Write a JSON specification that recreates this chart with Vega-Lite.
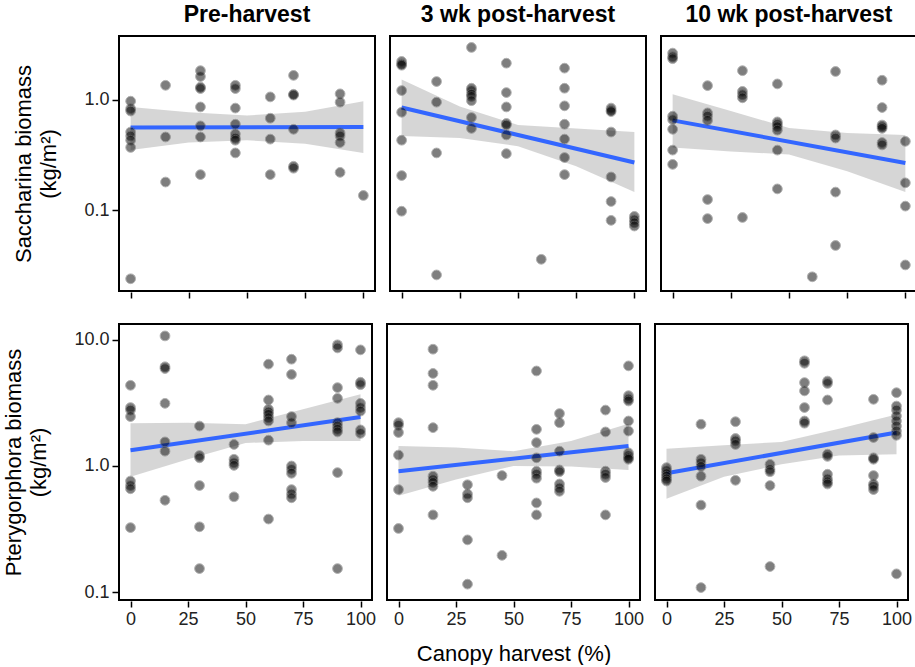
{
  "$schema": "https://vega.github.io/schema/vega-lite/v6.json",
  "background": "white",
  "padding": {"left": 2, "top": 4, "right": 0, "bottom": 0},
  "align": "none",
  "spacing": 24,
  "config": {
    "font": "Liberation Sans",
    "view": {"stroke": "black", "strokeWidth": 2},
    "axis": {"grid": false, "domain": false, "tickColor": "black", "tickSize": 6, "tickWidth": 1.5, "labelFontSize": 18, "labelColor": "#222222", "labelPadding": 3, "titleFontSize": 22, "titleFontWeight": "normal", "titleColor": "black"},
    "header": {"labelFontSize": 23, "labelFontWeight": "bold", "labelColor": "black", "labelPadding": 8},
    "facet": {"spacing": 13}
  },
  "datasets": {
    "d": [
      {"sp":"S","period":"Pre-harvest","harvest":0,"biomass":0.97},
      {"sp":"S","period":"Pre-harvest","harvest":0,"biomass":0.83},
      {"sp":"S","period":"Pre-harvest","harvest":0,"biomass":0.79},
      {"sp":"S","period":"Pre-harvest","harvest":0,"biomass":0.51},
      {"sp":"S","period":"Pre-harvest","harvest":0,"biomass":0.47},
      {"sp":"S","period":"Pre-harvest","harvest":0,"biomass":0.43},
      {"sp":"S","period":"Pre-harvest","harvest":0,"biomass":0.37},
      {"sp":"S","period":"Pre-harvest","harvest":0,"biomass":0.024},
      {"sp":"S","period":"Pre-harvest","harvest":15,"biomass":1.35},
      {"sp":"S","period":"Pre-harvest","harvest":15,"biomass":0.46},
      {"sp":"S","period":"Pre-harvest","harvest":15,"biomass":0.18},
      {"sp":"S","period":"Pre-harvest","harvest":30,"biomass":1.83},
      {"sp":"S","period":"Pre-harvest","harvest":30,"biomass":1.62},
      {"sp":"S","period":"Pre-harvest","harvest":30,"biomass":1.3},
      {"sp":"S","period":"Pre-harvest","harvest":30,"biomass":1.26},
      {"sp":"S","period":"Pre-harvest","harvest":30,"biomass":0.86},
      {"sp":"S","period":"Pre-harvest","harvest":30,"biomass":0.58},
      {"sp":"S","period":"Pre-harvest","harvest":30,"biomass":0.46},
      {"sp":"S","period":"Pre-harvest","harvest":30,"biomass":0.21},
      {"sp":"S","period":"Pre-harvest","harvest":45,"biomass":1.35},
      {"sp":"S","period":"Pre-harvest","harvest":45,"biomass":1.26},
      {"sp":"S","period":"Pre-harvest","harvest":45,"biomass":0.84},
      {"sp":"S","period":"Pre-harvest","harvest":45,"biomass":0.6},
      {"sp":"S","period":"Pre-harvest","harvest":45,"biomass":0.49},
      {"sp":"S","period":"Pre-harvest","harvest":45,"biomass":0.45},
      {"sp":"S","period":"Pre-harvest","harvest":45,"biomass":0.43},
      {"sp":"S","period":"Pre-harvest","harvest":45,"biomass":0.33},
      {"sp":"S","period":"Pre-harvest","harvest":60,"biomass":1.06},
      {"sp":"S","period":"Pre-harvest","harvest":60,"biomass":0.68},
      {"sp":"S","period":"Pre-harvest","harvest":60,"biomass":0.44},
      {"sp":"S","period":"Pre-harvest","harvest":60,"biomass":0.21},
      {"sp":"S","period":"Pre-harvest","harvest":70,"biomass":1.66},
      {"sp":"S","period":"Pre-harvest","harvest":70,"biomass":1.12},
      {"sp":"S","period":"Pre-harvest","harvest":70,"biomass":1.1},
      {"sp":"S","period":"Pre-harvest","harvest":70,"biomass":0.54},
      {"sp":"S","period":"Pre-harvest","harvest":70,"biomass":0.25},
      {"sp":"S","period":"Pre-harvest","harvest":70,"biomass":0.24},
      {"sp":"S","period":"Pre-harvest","harvest":90,"biomass":1.13},
      {"sp":"S","period":"Pre-harvest","harvest":90,"biomass":0.95},
      {"sp":"S","period":"Pre-harvest","harvest":90,"biomass":0.5},
      {"sp":"S","period":"Pre-harvest","harvest":90,"biomass":0.47},
      {"sp":"S","period":"Pre-harvest","harvest":90,"biomass":0.41},
      {"sp":"S","period":"Pre-harvest","harvest":90,"biomass":0.22},
      {"sp":"S","period":"Pre-harvest","harvest":100,"biomass":0.136},

      {"sp":"S","period":"3 wk post-harvest","harvest":0,"biomass":2.22},
      {"sp":"S","period":"3 wk post-harvest","harvest":0,"biomass":2.1},
      {"sp":"S","period":"3 wk post-harvest","harvest":0,"biomass":2.05},
      {"sp":"S","period":"3 wk post-harvest","harvest":0,"biomass":1.21},
      {"sp":"S","period":"3 wk post-harvest","harvest":0,"biomass":0.77},
      {"sp":"S","period":"3 wk post-harvest","harvest":0,"biomass":0.43},
      {"sp":"S","period":"3 wk post-harvest","harvest":0,"biomass":0.206},
      {"sp":"S","period":"3 wk post-harvest","harvest":0,"biomass":0.098},
      {"sp":"S","period":"3 wk post-harvest","harvest":15,"biomass":1.46},
      {"sp":"S","period":"3 wk post-harvest","harvest":15,"biomass":0.95},
      {"sp":"S","period":"3 wk post-harvest","harvest":15,"biomass":0.33},
      {"sp":"S","period":"3 wk post-harvest","harvest":15,"biomass":0.026},
      {"sp":"S","period":"3 wk post-harvest","harvest":30,"biomass":2.97},
      {"sp":"S","period":"3 wk post-harvest","harvest":30,"biomass":1.27},
      {"sp":"S","period":"3 wk post-harvest","harvest":30,"biomass":1.21},
      {"sp":"S","period":"3 wk post-harvest","harvest":30,"biomass":1.12},
      {"sp":"S","period":"3 wk post-harvest","harvest":30,"biomass":1.07},
      {"sp":"S","period":"3 wk post-harvest","harvest":30,"biomass":0.98},
      {"sp":"S","period":"3 wk post-harvest","harvest":30,"biomass":0.69},
      {"sp":"S","period":"3 wk post-harvest","harvest":30,"biomass":0.55},
      {"sp":"S","period":"3 wk post-harvest","harvest":45,"biomass":2.14},
      {"sp":"S","period":"3 wk post-harvest","harvest":45,"biomass":1.16},
      {"sp":"S","period":"3 wk post-harvest","harvest":45,"biomass":0.86},
      {"sp":"S","period":"3 wk post-harvest","harvest":45,"biomass":0.61},
      {"sp":"S","period":"3 wk post-harvest","harvest":45,"biomass":0.59},
      {"sp":"S","period":"3 wk post-harvest","harvest":45,"biomass":0.48},
      {"sp":"S","period":"3 wk post-harvest","harvest":45,"biomass":0.325},
      {"sp":"S","period":"3 wk post-harvest","harvest":60,"biomass":0.036},
      {"sp":"S","period":"3 wk post-harvest","harvest":70,"biomass":1.93},
      {"sp":"S","period":"3 wk post-harvest","harvest":70,"biomass":1.27},
      {"sp":"S","period":"3 wk post-harvest","harvest":70,"biomass":0.88},
      {"sp":"S","period":"3 wk post-harvest","harvest":70,"biomass":0.6},
      {"sp":"S","period":"3 wk post-harvest","harvest":70,"biomass":0.44},
      {"sp":"S","period":"3 wk post-harvest","harvest":70,"biomass":0.3},
      {"sp":"S","period":"3 wk post-harvest","harvest":70,"biomass":0.21},
      {"sp":"S","period":"3 wk post-harvest","harvest":90,"biomass":0.84},
      {"sp":"S","period":"3 wk post-harvest","harvest":90,"biomass":0.8},
      {"sp":"S","period":"3 wk post-harvest","harvest":90,"biomass":0.78},
      {"sp":"S","period":"3 wk post-harvest","harvest":90,"biomass":0.51},
      {"sp":"S","period":"3 wk post-harvest","harvest":90,"biomass":0.2},
      {"sp":"S","period":"3 wk post-harvest","harvest":90,"biomass":0.12},
      {"sp":"S","period":"3 wk post-harvest","harvest":90,"biomass":0.081},
      {"sp":"S","period":"3 wk post-harvest","harvest":100,"biomass":0.088},
      {"sp":"S","period":"3 wk post-harvest","harvest":100,"biomass":0.082},
      {"sp":"S","period":"3 wk post-harvest","harvest":100,"biomass":0.077},
      {"sp":"S","period":"3 wk post-harvest","harvest":100,"biomass":0.072},

      {"sp":"S","period":"10 wk post-harvest","harvest":0,"biomass":2.64},
      {"sp":"S","period":"10 wk post-harvest","harvest":0,"biomass":2.45},
      {"sp":"S","period":"10 wk post-harvest","harvest":0,"biomass":2.35},
      {"sp":"S","period":"10 wk post-harvest","harvest":0,"biomass":0.71},
      {"sp":"S","period":"10 wk post-harvest","harvest":0,"biomass":0.66},
      {"sp":"S","period":"10 wk post-harvest","harvest":0,"biomass":0.54},
      {"sp":"S","period":"10 wk post-harvest","harvest":0,"biomass":0.35},
      {"sp":"S","period":"10 wk post-harvest","harvest":0,"biomass":0.26},
      {"sp":"S","period":"10 wk post-harvest","harvest":15,"biomass":1.34},
      {"sp":"S","period":"10 wk post-harvest","harvest":15,"biomass":0.76},
      {"sp":"S","period":"10 wk post-harvest","harvest":15,"biomass":0.71},
      {"sp":"S","period":"10 wk post-harvest","harvest":15,"biomass":0.65},
      {"sp":"S","period":"10 wk post-harvest","harvest":15,"biomass":0.125},
      {"sp":"S","period":"10 wk post-harvest","harvest":15,"biomass":0.084},
      {"sp":"S","period":"10 wk post-harvest","harvest":30,"biomass":1.83},
      {"sp":"S","period":"10 wk post-harvest","harvest":30,"biomass":1.19},
      {"sp":"S","period":"10 wk post-harvest","harvest":30,"biomass":1.11},
      {"sp":"S","period":"10 wk post-harvest","harvest":30,"biomass":1.04},
      {"sp":"S","period":"10 wk post-harvest","harvest":30,"biomass":0.086},
      {"sp":"S","period":"10 wk post-harvest","harvest":45,"biomass":1.39},
      {"sp":"S","period":"10 wk post-harvest","harvest":45,"biomass":0.63},
      {"sp":"S","period":"10 wk post-harvest","harvest":45,"biomass":0.6},
      {"sp":"S","period":"10 wk post-harvest","harvest":45,"biomass":0.57},
      {"sp":"S","period":"10 wk post-harvest","harvest":45,"biomass":0.53},
      {"sp":"S","period":"10 wk post-harvest","harvest":45,"biomass":0.35},
      {"sp":"S","period":"10 wk post-harvest","harvest":45,"biomass":0.156},
      {"sp":"S","period":"10 wk post-harvest","harvest":60,"biomass":0.025},
      {"sp":"S","period":"10 wk post-harvest","harvest":70,"biomass":1.8},
      {"sp":"S","period":"10 wk post-harvest","harvest":70,"biomass":0.48},
      {"sp":"S","period":"10 wk post-harvest","harvest":70,"biomass":0.45},
      {"sp":"S","period":"10 wk post-harvest","harvest":70,"biomass":0.146},
      {"sp":"S","period":"10 wk post-harvest","harvest":70,"biomass":0.048},
      {"sp":"S","period":"10 wk post-harvest","harvest":90,"biomass":1.5},
      {"sp":"S","period":"10 wk post-harvest","harvest":90,"biomass":0.85},
      {"sp":"S","period":"10 wk post-harvest","harvest":90,"biomass":0.59},
      {"sp":"S","period":"10 wk post-harvest","harvest":90,"biomass":0.57},
      {"sp":"S","period":"10 wk post-harvest","harvest":90,"biomass":0.55},
      {"sp":"S","period":"10 wk post-harvest","harvest":90,"biomass":0.41},
      {"sp":"S","period":"10 wk post-harvest","harvest":90,"biomass":0.39},
      {"sp":"S","period":"10 wk post-harvest","harvest":100,"biomass":0.42},
      {"sp":"S","period":"10 wk post-harvest","harvest":100,"biomass":0.177},
      {"sp":"S","period":"10 wk post-harvest","harvest":100,"biomass":0.109},
      {"sp":"S","period":"10 wk post-harvest","harvest":100,"biomass":0.032},

      {"sp":"P","period":"Pre-harvest","harvest":0,"biomass":4.35},
      {"sp":"P","period":"Pre-harvest","harvest":0,"biomass":2.9},
      {"sp":"P","period":"Pre-harvest","harvest":0,"biomass":2.77},
      {"sp":"P","period":"Pre-harvest","harvest":0,"biomass":2.46},
      {"sp":"P","period":"Pre-harvest","harvest":0,"biomass":0.76},
      {"sp":"P","period":"Pre-harvest","harvest":0,"biomass":0.7},
      {"sp":"P","period":"Pre-harvest","harvest":0,"biomass":0.66},
      {"sp":"P","period":"Pre-harvest","harvest":0,"biomass":0.325},
      {"sp":"P","period":"Pre-harvest","harvest":15,"biomass":10.7},
      {"sp":"P","period":"Pre-harvest","harvest":15,"biomass":6.1},
      {"sp":"P","period":"Pre-harvest","harvest":15,"biomass":5.9},
      {"sp":"P","period":"Pre-harvest","harvest":15,"biomass":3.13},
      {"sp":"P","period":"Pre-harvest","harvest":15,"biomass":1.55},
      {"sp":"P","period":"Pre-harvest","harvest":15,"biomass":1.31},
      {"sp":"P","period":"Pre-harvest","harvest":15,"biomass":0.535},
      {"sp":"P","period":"Pre-harvest","harvest":30,"biomass":2.07},
      {"sp":"P","period":"Pre-harvest","harvest":30,"biomass":1.21},
      {"sp":"P","period":"Pre-harvest","harvest":30,"biomass":1.16},
      {"sp":"P","period":"Pre-harvest","harvest":30,"biomass":0.7},
      {"sp":"P","period":"Pre-harvest","harvest":30,"biomass":0.33},
      {"sp":"P","period":"Pre-harvest","harvest":30,"biomass":0.154},
      {"sp":"P","period":"Pre-harvest","harvest":45,"biomass":1.48},
      {"sp":"P","period":"Pre-harvest","harvest":45,"biomass":1.13},
      {"sp":"P","period":"Pre-harvest","harvest":45,"biomass":1.06},
      {"sp":"P","period":"Pre-harvest","harvest":45,"biomass":1.01},
      {"sp":"P","period":"Pre-harvest","harvest":45,"biomass":0.57},
      {"sp":"P","period":"Pre-harvest","harvest":60,"biomass":6.4},
      {"sp":"P","period":"Pre-harvest","harvest":60,"biomass":3.33},
      {"sp":"P","period":"Pre-harvest","harvest":60,"biomass":2.81},
      {"sp":"P","period":"Pre-harvest","harvest":60,"biomass":2.68},
      {"sp":"P","period":"Pre-harvest","harvest":60,"biomass":2.56},
      {"sp":"P","period":"Pre-harvest","harvest":60,"biomass":2.41},
      {"sp":"P","period":"Pre-harvest","harvest":60,"biomass":2.27},
      {"sp":"P","period":"Pre-harvest","harvest":60,"biomass":1.6},
      {"sp":"P","period":"Pre-harvest","harvest":60,"biomass":0.38},
      {"sp":"P","period":"Pre-harvest","harvest":70,"biomass":7.0},
      {"sp":"P","period":"Pre-harvest","harvest":70,"biomass":5.3},
      {"sp":"P","period":"Pre-harvest","harvest":70,"biomass":2.46},
      {"sp":"P","period":"Pre-harvest","harvest":70,"biomass":2.2},
      {"sp":"P","period":"Pre-harvest","harvest":70,"biomass":1.0},
      {"sp":"P","period":"Pre-harvest","harvest":70,"biomass":0.94},
      {"sp":"P","period":"Pre-harvest","harvest":70,"biomass":0.875},
      {"sp":"P","period":"Pre-harvest","harvest":70,"biomass":0.65},
      {"sp":"P","period":"Pre-harvest","harvest":70,"biomass":0.6},
      {"sp":"P","period":"Pre-harvest","harvest":70,"biomass":0.56},
      {"sp":"P","period":"Pre-harvest","harvest":90,"biomass":9.1},
      {"sp":"P","period":"Pre-harvest","harvest":90,"biomass":8.6},
      {"sp":"P","period":"Pre-harvest","harvest":90,"biomass":4.17},
      {"sp":"P","period":"Pre-harvest","harvest":90,"biomass":3.43},
      {"sp":"P","period":"Pre-harvest","harvest":90,"biomass":2.2},
      {"sp":"P","period":"Pre-harvest","harvest":90,"biomass":2.07},
      {"sp":"P","period":"Pre-harvest","harvest":90,"biomass":1.95},
      {"sp":"P","period":"Pre-harvest","harvest":90,"biomass":1.86},
      {"sp":"P","period":"Pre-harvest","harvest":90,"biomass":0.886},
      {"sp":"P","period":"Pre-harvest","harvest":90,"biomass":0.154},
      {"sp":"P","period":"Pre-harvest","harvest":100,"biomass":8.3},
      {"sp":"P","period":"Pre-harvest","harvest":100,"biomass":4.6},
      {"sp":"P","period":"Pre-harvest","harvest":100,"biomass":4.4},
      {"sp":"P","period":"Pre-harvest","harvest":100,"biomass":3.13},
      {"sp":"P","period":"Pre-harvest","harvest":100,"biomass":2.9},
      {"sp":"P","period":"Pre-harvest","harvest":100,"biomass":2.72},
      {"sp":"P","period":"Pre-harvest","harvest":100,"biomass":1.93},
      {"sp":"P","period":"Pre-harvest","harvest":100,"biomass":1.81},

      {"sp":"P","period":"3 wk post-harvest","harvest":0,"biomass":2.2},
      {"sp":"P","period":"3 wk post-harvest","harvest":0,"biomass":2.1},
      {"sp":"P","period":"3 wk post-harvest","harvest":0,"biomass":1.84},
      {"sp":"P","period":"3 wk post-harvest","harvest":0,"biomass":1.22},
      {"sp":"P","period":"3 wk post-harvest","harvest":0,"biomass":0.65},
      {"sp":"P","period":"3 wk post-harvest","harvest":0,"biomass":0.32},
      {"sp":"P","period":"3 wk post-harvest","harvest":15,"biomass":8.4},
      {"sp":"P","period":"3 wk post-harvest","harvest":15,"biomass":5.4},
      {"sp":"P","period":"3 wk post-harvest","harvest":15,"biomass":4.35},
      {"sp":"P","period":"3 wk post-harvest","harvest":15,"biomass":2.01},
      {"sp":"P","period":"3 wk post-harvest","harvest":15,"biomass":0.83},
      {"sp":"P","period":"3 wk post-harvest","harvest":15,"biomass":0.78},
      {"sp":"P","period":"3 wk post-harvest","harvest":15,"biomass":0.74},
      {"sp":"P","period":"3 wk post-harvest","harvest":15,"biomass":0.69},
      {"sp":"P","period":"3 wk post-harvest","harvest":15,"biomass":0.41},
      {"sp":"P","period":"3 wk post-harvest","harvest":30,"biomass":0.71},
      {"sp":"P","period":"3 wk post-harvest","harvest":30,"biomass":0.6},
      {"sp":"P","period":"3 wk post-harvest","harvest":30,"biomass":0.56},
      {"sp":"P","period":"3 wk post-harvest","harvest":30,"biomass":0.26},
      {"sp":"P","period":"3 wk post-harvest","harvest":30,"biomass":0.116},
      {"sp":"P","period":"3 wk post-harvest","harvest":45,"biomass":0.84},
      {"sp":"P","period":"3 wk post-harvest","harvest":45,"biomass":0.196},
      {"sp":"P","period":"3 wk post-harvest","harvest":60,"biomass":5.65},
      {"sp":"P","period":"3 wk post-harvest","harvest":60,"biomass":1.95},
      {"sp":"P","period":"3 wk post-harvest","harvest":60,"biomass":1.53},
      {"sp":"P","period":"3 wk post-harvest","harvest":60,"biomass":1.16},
      {"sp":"P","period":"3 wk post-harvest","harvest":60,"biomass":0.91},
      {"sp":"P","period":"3 wk post-harvest","harvest":60,"biomass":0.86},
      {"sp":"P","period":"3 wk post-harvest","harvest":60,"biomass":0.8},
      {"sp":"P","period":"3 wk post-harvest","harvest":60,"biomass":0.51},
      {"sp":"P","period":"3 wk post-harvest","harvest":60,"biomass":0.41},
      {"sp":"P","period":"3 wk post-harvest","harvest":70,"biomass":2.6},
      {"sp":"P","period":"3 wk post-harvest","harvest":70,"biomass":2.2},
      {"sp":"P","period":"3 wk post-harvest","harvest":70,"biomass":1.31},
      {"sp":"P","period":"3 wk post-harvest","harvest":70,"biomass":0.93},
      {"sp":"P","period":"3 wk post-harvest","harvest":70,"biomass":0.9},
      {"sp":"P","period":"3 wk post-harvest","harvest":70,"biomass":0.72},
      {"sp":"P","period":"3 wk post-harvest","harvest":70,"biomass":0.67},
      {"sp":"P","period":"3 wk post-harvest","harvest":70,"biomass":0.63},
      {"sp":"P","period":"3 wk post-harvest","harvest":90,"biomass":2.77},
      {"sp":"P","period":"3 wk post-harvest","harvest":90,"biomass":1.86},
      {"sp":"P","period":"3 wk post-harvest","harvest":90,"biomass":0.91},
      {"sp":"P","period":"3 wk post-harvest","harvest":90,"biomass":0.86},
      {"sp":"P","period":"3 wk post-harvest","harvest":90,"biomass":0.81},
      {"sp":"P","period":"3 wk post-harvest","harvest":90,"biomass":0.41},
      {"sp":"P","period":"3 wk post-harvest","harvest":100,"biomass":6.2},
      {"sp":"P","period":"3 wk post-harvest","harvest":100,"biomass":3.6},
      {"sp":"P","period":"3 wk post-harvest","harvest":100,"biomass":3.4},
      {"sp":"P","period":"3 wk post-harvest","harvest":100,"biomass":3.27},
      {"sp":"P","period":"3 wk post-harvest","harvest":100,"biomass":2.27},
      {"sp":"P","period":"3 wk post-harvest","harvest":100,"biomass":1.89},
      {"sp":"P","period":"3 wk post-harvest","harvest":100,"biomass":1.27},
      {"sp":"P","period":"3 wk post-harvest","harvest":100,"biomass":1.21},
      {"sp":"P","period":"3 wk post-harvest","harvest":100,"biomass":1.16},
      {"sp":"P","period":"3 wk post-harvest","harvest":100,"biomass":1.13},

      {"sp":"P","period":"10 wk post-harvest","harvest":0,"biomass":0.97},
      {"sp":"P","period":"10 wk post-harvest","harvest":0,"biomass":0.92},
      {"sp":"P","period":"10 wk post-harvest","harvest":0,"biomass":0.87},
      {"sp":"P","period":"10 wk post-harvest","harvest":0,"biomass":0.83},
      {"sp":"P","period":"10 wk post-harvest","harvest":0,"biomass":0.79},
      {"sp":"P","period":"10 wk post-harvest","harvest":0,"biomass":0.76},
      {"sp":"P","period":"10 wk post-harvest","harvest":15,"biomass":2.14},
      {"sp":"P","period":"10 wk post-harvest","harvest":15,"biomass":1.13},
      {"sp":"P","period":"10 wk post-harvest","harvest":15,"biomass":1.06},
      {"sp":"P","period":"10 wk post-harvest","harvest":15,"biomass":0.99},
      {"sp":"P","period":"10 wk post-harvest","harvest":15,"biomass":0.83},
      {"sp":"P","period":"10 wk post-harvest","harvest":15,"biomass":0.49},
      {"sp":"P","period":"10 wk post-harvest","harvest":15,"biomass":0.109},
      {"sp":"P","period":"10 wk post-harvest","harvest":30,"biomass":2.24},
      {"sp":"P","period":"10 wk post-harvest","harvest":30,"biomass":1.65},
      {"sp":"P","period":"10 wk post-harvest","harvest":30,"biomass":1.58},
      {"sp":"P","period":"10 wk post-harvest","harvest":30,"biomass":1.48},
      {"sp":"P","period":"10 wk post-harvest","harvest":30,"biomass":0.77},
      {"sp":"P","period":"10 wk post-harvest","harvest":45,"biomass":1.03},
      {"sp":"P","period":"10 wk post-harvest","harvest":45,"biomass":0.94},
      {"sp":"P","period":"10 wk post-harvest","harvest":45,"biomass":0.9},
      {"sp":"P","period":"10 wk post-harvest","harvest":45,"biomass":0.7},
      {"sp":"P","period":"10 wk post-harvest","harvest":45,"biomass":0.16},
      {"sp":"P","period":"10 wk post-harvest","harvest":60,"biomass":6.8},
      {"sp":"P","period":"10 wk post-harvest","harvest":60,"biomass":6.5},
      {"sp":"P","period":"10 wk post-harvest","harvest":60,"biomass":4.57},
      {"sp":"P","period":"10 wk post-harvest","harvest":60,"biomass":3.93},
      {"sp":"P","period":"10 wk post-harvest","harvest":60,"biomass":2.9},
      {"sp":"P","period":"10 wk post-harvest","harvest":60,"biomass":2.27},
      {"sp":"P","period":"10 wk post-harvest","harvest":60,"biomass":2.18},
      {"sp":"P","period":"10 wk post-harvest","harvest":70,"biomass":4.7},
      {"sp":"P","period":"10 wk post-harvest","harvest":70,"biomass":4.5},
      {"sp":"P","period":"10 wk post-harvest","harvest":70,"biomass":3.33},
      {"sp":"P","period":"10 wk post-harvest","harvest":70,"biomass":1.24},
      {"sp":"P","period":"10 wk post-harvest","harvest":70,"biomass":1.19},
      {"sp":"P","period":"10 wk post-harvest","harvest":70,"biomass":0.86},
      {"sp":"P","period":"10 wk post-harvest","harvest":70,"biomass":0.79},
      {"sp":"P","period":"10 wk post-harvest","harvest":70,"biomass":0.75},
      {"sp":"P","period":"10 wk post-harvest","harvest":70,"biomass":0.72},
      {"sp":"P","period":"10 wk post-harvest","harvest":90,"biomass":3.37},
      {"sp":"P","period":"10 wk post-harvest","harvest":90,"biomass":1.68},
      {"sp":"P","period":"10 wk post-harvest","harvest":90,"biomass":1.16},
      {"sp":"P","period":"10 wk post-harvest","harvest":90,"biomass":1.13},
      {"sp":"P","period":"10 wk post-harvest","harvest":90,"biomass":0.84},
      {"sp":"P","period":"10 wk post-harvest","harvest":90,"biomass":0.72},
      {"sp":"P","period":"10 wk post-harvest","harvest":90,"biomass":0.69},
      {"sp":"P","period":"10 wk post-harvest","harvest":90,"biomass":0.65},
      {"sp":"P","period":"10 wk post-harvest","harvest":100,"biomass":3.8},
      {"sp":"P","period":"10 wk post-harvest","harvest":100,"biomass":2.98},
      {"sp":"P","period":"10 wk post-harvest","harvest":100,"biomass":2.77},
      {"sp":"P","period":"10 wk post-harvest","harvest":100,"biomass":2.49},
      {"sp":"P","period":"10 wk post-harvest","harvest":100,"biomass":2.27},
      {"sp":"P","period":"10 wk post-harvest","harvest":100,"biomass":2.07},
      {"sp":"P","period":"10 wk post-harvest","harvest":100,"biomass":1.89},
      {"sp":"P","period":"10 wk post-harvest","harvest":100,"biomass":1.75},
      {"sp":"P","period":"10 wk post-harvest","harvest":100,"biomass":0.14},

      {"sp":"S","period":"Pre-harvest","harvest":0,"lo":0.35,"hi":0.86,"fit":0.56},
      {"sp":"S","period":"Pre-harvest","harvest":25,"lo":0.41,"hi":0.77},
      {"sp":"S","period":"Pre-harvest","harvest":50,"lo":0.43,"hi":0.72},
      {"sp":"S","period":"Pre-harvest","harvest":75,"lo":0.4,"hi":0.78},
      {"sp":"S","period":"Pre-harvest","harvest":100,"lo":0.33,"hi":0.97,"fit":0.565},
      {"sp":"S","period":"3 wk post-harvest","harvest":0,"lo":0.47,"hi":1.52,"fit":0.85},
      {"sp":"S","period":"3 wk post-harvest","harvest":25,"lo":0.45,"hi":0.87},
      {"sp":"S","period":"3 wk post-harvest","harvest":50,"lo":0.38,"hi":0.59},
      {"sp":"S","period":"3 wk post-harvest","harvest":75,"lo":0.25,"hi":0.55},
      {"sp":"S","period":"3 wk post-harvest","harvest":100,"lo":0.146,"hi":0.51,"fit":0.27},
      {"sp":"S","period":"10 wk post-harvest","harvest":0,"lo":0.37,"hi":1.12,"fit":0.65},
      {"sp":"S","period":"10 wk post-harvest","harvest":25,"lo":0.34,"hi":0.79},
      {"sp":"S","period":"10 wk post-harvest","harvest":50,"lo":0.32,"hi":0.555},
      {"sp":"S","period":"10 wk post-harvest","harvest":75,"lo":0.225,"hi":0.5},
      {"sp":"S","period":"10 wk post-harvest","harvest":100,"lo":0.146,"hi":0.48,"fit":0.268},
      {"sp":"P","period":"Pre-harvest","harvest":0,"lo":0.82,"hi":2.18,"fit":1.33},
      {"sp":"P","period":"Pre-harvest","harvest":25,"lo":1.13,"hi":2.2},
      {"sp":"P","period":"Pre-harvest","harvest":50,"lo":1.52,"hi":2.14},
      {"sp":"P","period":"Pre-harvest","harvest":75,"lo":1.58,"hi":2.81},
      {"sp":"P","period":"Pre-harvest","harvest":100,"lo":1.58,"hi":3.69,"fit":2.44},
      {"sp":"P","period":"3 wk post-harvest","harvest":0,"lo":0.58,"hi":1.44,"fit":0.91},
      {"sp":"P","period":"3 wk post-harvest","harvest":25,"lo":0.78,"hi":1.4},
      {"sp":"P","period":"3 wk post-harvest","harvest":50,"lo":1.0,"hi":1.31},
      {"sp":"P","period":"3 wk post-harvest","harvest":75,"lo":0.99,"hi":1.58},
      {"sp":"P","period":"3 wk post-harvest","harvest":100,"lo":0.93,"hi":2.16,"fit":1.44},
      {"sp":"P","period":"10 wk post-harvest","harvest":0,"lo":0.55,"hi":1.37,"fit":0.875},
      {"sp":"P","period":"10 wk post-harvest","harvest":25,"lo":0.82,"hi":1.46},
      {"sp":"P","period":"10 wk post-harvest","harvest":50,"lo":1.03,"hi":1.55},
      {"sp":"P","period":"10 wk post-harvest","harvest":75,"lo":1.21,"hi":1.97},
      {"sp":"P","period":"10 wk post-harvest","harvest":100,"lo":1.24,"hi":2.56,"fit":1.84}
    ]
  },
  "vconcat": [
    {
      "data": {"name": "d"},
      "transform": [{"filter": "datum.sp == 'S'"}],
      "spacing": 13,
      "facet": {"column": {"field": "period", "type": "nominal", "sort": ["Pre-harvest", "3 wk post-harvest", "10 wk post-harvest"], "header": {"title": null}}},
      "spec": {
        "width": 256,
        "height": 255,
        "encoding": {
          "x": {"field": "harvest", "type": "quantitative", "scale": {"domain": [-5, 105], "nice": false, "zero": false}, "axis": {"values": [0, 25, 50, 75, 100], "labels": false, "title": null}}
        },
        "layer": [
          {
            "transform": [{"filter": "isValid(datum.lo)"}],
            "mark": {"type": "area", "color": "#999999", "opacity": 0.4},
            "encoding": {
              "y": {"field": "lo", "type": "quantitative", "scale": {"type": "log", "domain": [0.0186, 3.77], "nice": false}, "axis": {"values": [0.1, 1], "format": ".1f", "title": ["Saccharina biomass", "(kg/m²)"], "titleLineHeight": 25, "titlePadding": 23}},
              "y2": {"field": "hi"}
            }
          },
          {
            "transform": [{"filter": "isValid(datum.fit)"}],
            "mark": {"type": "line", "color": "#3366FF", "strokeWidth": 4},
            "encoding": {"y": {"field": "fit", "type": "quantitative", "title": ["Saccharina biomass", "(kg/m²)"]}}
          },
          {
            "transform": [{"filter": "isValid(datum.biomass)"}],
            "mark": {"type": "circle", "size": 95, "color": "black", "opacity": 0.5, "stroke": "#666666", "strokeWidth": 1},
            "encoding": {"y": {"field": "biomass", "type": "quantitative", "title": ["Saccharina biomass", "(kg/m²)"]}}
          }
        ]
      }
    },
    {
      "data": {"name": "d"},
      "transform": [{"filter": "datum.sp == 'P'"}],
      "spacing": 13,
      "facet": {"column": {"field": "period", "type": "nominal", "sort": ["Pre-harvest", "3 wk post-harvest", "10 wk post-harvest"], "header": {"title": "Canopy harvest (%)", "titleOrient": "bottom", "titleFontSize": 22, "titleFontWeight": "normal", "titleColor": "black", "titlePadding": 6, "labels": false}}},
      "spec": {
        "width": 253,
        "height": 276,
        "encoding": {
          "x": {"field": "harvest", "type": "quantitative", "scale": {"domain": [-5, 105], "nice": false, "zero": false}, "axis": {"values": [0, 25, 50, 75, 100], "title": null}}
        },
        "layer": [
          {
            "transform": [{"filter": "isValid(datum.lo)"}],
            "mark": {"type": "area", "color": "#999999", "opacity": 0.4},
            "encoding": {
              "y": {"field": "lo", "type": "quantitative", "scale": {"type": "log", "domain": [0.0869, 13.3], "nice": false}, "axis": {"values": [0.1, 1, 10], "format": ".1f", "title": ["Pterygorphora biomass", "(kg/m²)"], "titleLineHeight": 25, "titlePadding": 23}},
              "y2": {"field": "hi"}
            }
          },
          {
            "transform": [{"filter": "isValid(datum.fit)"}],
            "mark": {"type": "line", "color": "#3366FF", "strokeWidth": 4},
            "encoding": {"y": {"field": "fit", "type": "quantitative", "title": ["Pterygorphora biomass", "(kg/m²)"]}}
          },
          {
            "transform": [{"filter": "isValid(datum.biomass)"}],
            "mark": {"type": "circle", "size": 95, "color": "black", "opacity": 0.5, "stroke": "#666666", "strokeWidth": 1},
            "encoding": {"y": {"field": "biomass", "type": "quantitative", "title": ["Pterygorphora biomass", "(kg/m²)"]}}
          }
        ]
      }
    }
  ]
}
